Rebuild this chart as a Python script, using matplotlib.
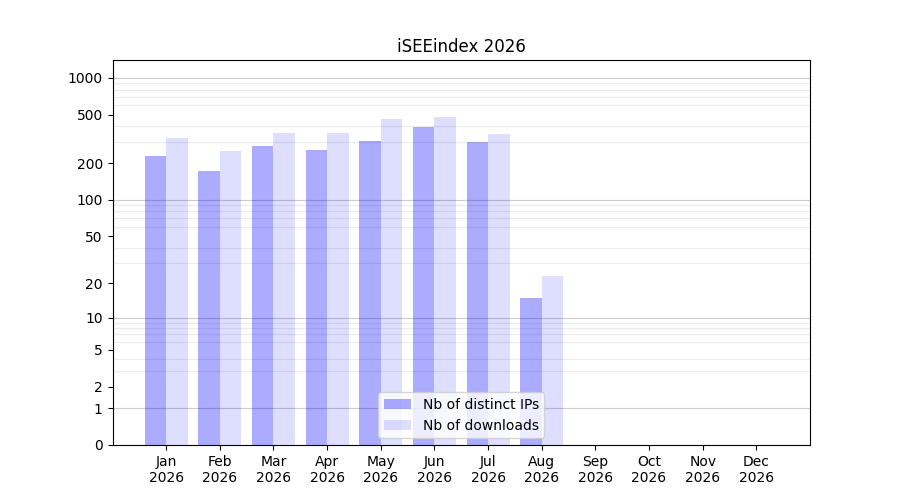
import numpy as np
import matplotlib
matplotlib.use("Agg")
import matplotlib.pyplot as plt

YEAR = 2026
months = ["Jan", "Feb", "Mar", "Apr", "May", "Jun", "Jul", "Aug", "Sep", "Oct", "Nov", "Dec"]
distinct_ips = [230, 171, 278, 257, 305, 397, 299, 15, 0, 0, 0, 0]
downloads = [323, 253, 355, 355, 462, 480, 348, 23, 0, 0, 0, 0]
ytick_values = [0, 1, 2, 5, 10, 20, 50, 100, 200, 500, 1000]
decades = [1, 10, 100, 1000]


def forward(x):
    x = np.asarray(x, dtype=float)
    return np.log10(1 + np.clip(x, 0, None))


def inverse(y):
    return 10 ** np.asarray(y, dtype=float) - 1


fig, ax = plt.subplots(figsize=(9, 5), dpi=100)
x = np.arange(len(months))
width = 0.4

ax.bar(x - width / 2, distinct_ips, width, color="blue", alpha=0.33, label="Nb of distinct IPs")
ax.bar(x + width / 2, downloads, width, color="blue", alpha=0.13, label="Nb of downloads")

ax.set_yscale("function", functions=(forward, inverse))
ax.set_ylim(0, 1400)
ax.set_xlim(-1, 12)

ax.set_yticks(ytick_values)
ax.set_yticklabels([str(v) for v in ytick_values])
minor = [m * d for d in decades[:3] for m in range(2, 10)]
ax.set_yticks(minor, minor=True)
ax.tick_params(axis="y", which="minor", length=0)
ax.grid(True, which="minor", axis="y", color="#ebebeb", linewidth=0.8)
ax.set_axisbelow(True)
for d in decades:
    ax.axhline(d, color="#cccccc", linewidth=0.8, zorder=0)

ax.set_xticks(x)
ax.set_xticklabels(["{}\n{}".format(m, YEAR) for m in months])

ax.set_title("iSEEindex {}".format(YEAR))
ax.legend(loc="lower center")

fig.savefig("out.png")
